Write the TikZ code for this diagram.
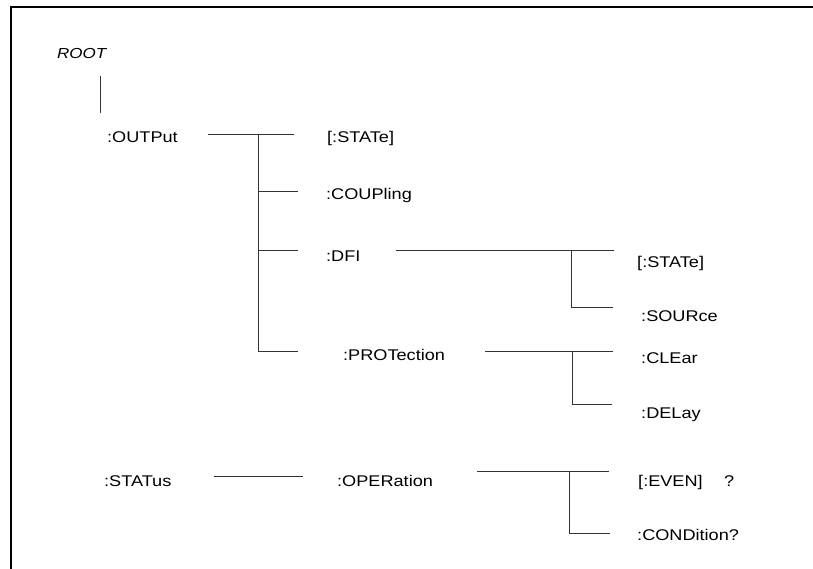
\documentclass[tikz,border=0pt]{standalone}
\usepackage{fontspec}
\setmainfont{Liberation Sans}[FakeStretch=1.17]
\begin{document}
\begin{tikzpicture}[x=1pt,y=-1pt,
  lbl/.style={anchor=base west, inner sep=0pt, font=\fontsize{15.5}{18}\selectfont},
  ln/.style={line width=0.9pt, draw=black!80},
  frame/.style={line width=2pt, draw=black}]
\useasboundingbox (0,0) rectangle (813,569);
\draw[frame] (11,569) -- (11,6.7) -- (813,6.7);
% labels
\node[lbl, font=\fontsize{14.5}{18}\selectfont\itshape] (root) at (57,59) {ROOT};
\node[lbl] (output) at (107,142.5) {:OUTPut};
\node[lbl] (ostate) at (327,143) {[:STATe]};
\node[lbl] (coupling) at (326,200) {:COUPling};
\node[lbl] (dfi) at (326,261.7) {:DFI};
\node[lbl] (prot) at (343,360) {:PROTection};
\node[lbl] (dstate) at (637,267.5) {[:STATe]};
\node[lbl] (source) at (641,321.5) {:SOURce};
\node[lbl] (clear) at (641,363) {:CLEar};
\node[lbl] (delay) at (641,418.3) {:DELay};
\node[lbl] (status) at (104,486) {:STATus};
\node[lbl] (oper) at (337,486) {:OPERation};
\node[lbl] (even) at (638,486.5) {[:EVEN]};
\node[lbl] (q) at (724,486.5) {?};
\node[lbl] (cond) at (637,540) {:CONDition?};
% coordinates
\coordinate (r1) at (100,76);   \coordinate (r2) at (100,113);
\coordinate (o1) at (208,134);  \coordinate (o2) at (294,134);
\coordinate (ov) at (258,134);  \coordinate (ob) at (258,351);
\coordinate (c1) at (258,191);  \coordinate (c2) at (298,191);
\coordinate (d1) at (258,250.5);\coordinate (d2) at (298,250.5);
\coordinate (p1) at (298,351);
\coordinate (f1) at (396,250.7);\coordinate (f2) at (614,250.7);
\coordinate (fv) at (571,250.7);\coordinate (fb) at (571,307);
\coordinate (f3) at (613,307);
\coordinate (g1) at (485,351.7);\coordinate (g2) at (613,351.7);
\coordinate (gv) at (572,351.7);\coordinate (gb) at (572,404);
\coordinate (g3) at (612,404);
\coordinate (s1) at (214,476);  \coordinate (s2) at (303,476);
\coordinate (h1) at (477,471.7);\coordinate (h2) at (609,471.7);
\coordinate (hv) at (569,471.7);\coordinate (hb) at (569,533);
\coordinate (h3) at (610,533);
% connectors
\draw[ln] (r1) -- (r2);
\draw[ln] (o1) -- (o2);
\draw[ln] (ov) -- (ob) -- (p1);
\draw[ln] (c1) -- (c2);
\draw[ln] (d1) -- (d2);
\draw[ln] (f1) -- (f2);
\draw[ln] (fv) -- (fb) -- (f3);
\draw[ln] (g1) -- (g2);
\draw[ln] (gv) -- (gb) -- (g3);
\draw[ln] (s1) -- (s2);
\draw[ln] (h1) -- (h2);
\draw[ln] (hv) -- (hb) -- (h3);
\end{tikzpicture}
\end{document}
